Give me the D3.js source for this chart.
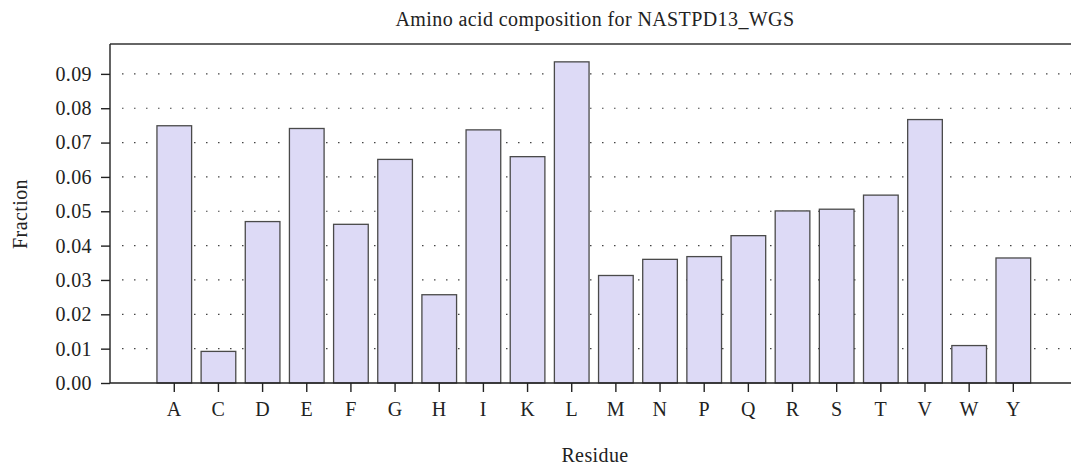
<!DOCTYPE html>
<html>
<head>
    <script type="text/javascript" src="https://d3js.org/d3.v7.min.js"></script>
    <style>
        body { margin: 0; background: #fff; }
        svg text {
            fill: #222;
            font: 20px "Liberation Serif", "DejaVu Serif", serif;
            letter-spacing: 0.4px;
        }
        .bar {
            fill: #dddaf6;
            stroke: #4a4a4a;
            stroke-width: 1.3px;
        }
        .grid line {
            stroke: #444;
            stroke-width: 1.2px;
            stroke-dasharray: 1.5, 10.5;
        }
    </style>
    <title> Amino acid composition </title>
</head>
<body>
    <svg width="1071" height="466"></svg>
    <script>
        // data
        var residues = ["A", "C", "D", "E", "F", "G", "H", "I", "K", "L",
                        "M", "N", "P", "Q", "R", "S", "T", "V", "W", "Y"];
        var fractions = [0.0749, 0.0092, 0.0470, 0.0741, 0.0462, 0.0651, 0.0257, 0.0737, 0.0659, 0.0935,
                         0.0313, 0.0360, 0.0368, 0.0429, 0.0501, 0.0506, 0.0547, 0.0767, 0.0109, 0.0364];
        var yTicks = [0, 0.01, 0.02, 0.03, 0.04, 0.05, 0.06, 0.07, 0.08, 0.09];

        var svg = d3.select("svg");
        var plotLeft = 110, plotTop = 44, plotBottom = 383, plotRight = 1071;

        var x = d3.scaleBand().domain(residues).range([152.2, 1035.4])
            .paddingInner(0.215).paddingOuter(0.1075);
        var y = d3.scaleLinear().domain([0, 0.0987]).range([plotBottom, plotTop]);

        // dotted grid
        svg.append("g").attr("class", "grid")
            .selectAll("line")
            .data(yTicks.slice(1))
            .enter()
            .append("line")
            .attr("x1", plotLeft + 12).attr("x2", plotRight)
            .attr("y1", function (d) { return y(d); })
            .attr("y2", function (d) { return y(d); });

        // bars
        svg.selectAll(".bar")
            .data(residues)
            .enter()
            .append("rect")
            .attr("class", "bar")
            .attr("x", function (d) { return x(d); })
            .attr("y", function (d, i) { return y(fractions[i]); })
            .attr("width", x.bandwidth())
            .attr("height", function (d, i) { return plotBottom - y(fractions[i]); });

        // top frame line
        svg.append("line")
            .attr("x1", plotLeft).attr("x2", plotRight)
            .attr("y1", plotTop).attr("y2", plotTop)
            .attr("stroke", "#333").attr("stroke-width", 1.4);

        // y axis
        var yAxis = svg.append("g")
            .attr("transform", "translate(" + plotLeft + ",0)")
            .call(d3.axisLeft(y).tickValues(yTicks).tickFormat(d3.format(".2f")).tickSize(9).tickPadding(9));
        yAxis.select(".domain").attr("d", "M0," + plotTop + "V" + plotBottom).attr("stroke", "#222").attr("stroke-width", 1.4);
        yAxis.selectAll(".tick line").attr("stroke", "#222").attr("stroke-width", 1.4);
        yAxis.selectAll("text").attr("font-size", null).attr("font-family", null);

        // x axis
        var xAxis = svg.append("g")
            .attr("transform", "translate(0," + plotBottom + ")")
            .call(d3.axisBottom(x).tickSize(9).tickPadding(10));
        xAxis.select(".domain").attr("d", "M" + plotLeft + ",0H" + plotRight).attr("stroke", "#222").attr("stroke-width", 1.4);
        xAxis.selectAll(".tick line").attr("stroke", "#222").attr("stroke-width", 1.4);
        xAxis.selectAll("text").attr("font-size", null).attr("font-family", null);

        // titles
        svg.append("text")
            .attr("x", 595).attr("y", 26)
            .attr("text-anchor", "middle")
            .text("Amino acid composition for NASTPD13_WGS");

        svg.append("text")
            .attr("transform", "translate(27,214) rotate(-90)")
            .attr("text-anchor", "middle")
            .text("Fraction");

        svg.append("text")
            .attr("x", 595).attr("y", 462)
            .attr("text-anchor", "middle")
            .text("Residue");
    </script>
</body>
</html>
